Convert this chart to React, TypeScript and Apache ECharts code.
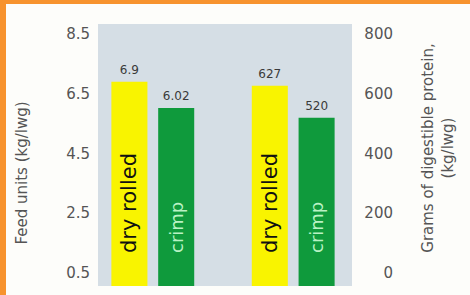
import React, { useEffect, useRef } from "react";
import * as echarts from "echarts";

// ---- data ----
const categories = ["dry rolled", "crimp", "", "dry rolled", "crimp"];
const feedUnitsIdx = [0, 1];
const feedUnits = [6.9, 6.02];
const proteinIdx = [3, 4];
const protein = [627, 520];
const leftTicks = [0.5, 2.5, 4.5, 6.5, 8.5];
const rightTicks = [0, 200, 400, 600, 800];
const leftTitle = "Feed units (kg/lwg)";
const rightTitle = "Grams of digestible protein,\n(kg/lwg)";

const YELLOW = "#f9f400";
const GREEN = "#0f9a3c";
const FONT = "DejaVu Sans";

const LEFT_MIN = 0.065;
const LEFT_MAX = 8.835;
const RIGHT_MIN = -43.5;
const RIGHT_MAX = 833.5;

function renderBar(params: any, api: any) {
  const cat = api.value(0);
  const val = api.value(1);
  const top = api.coord([cat, val]);
  const bandW = api.size([1, 0])[0];
  const w = bandW * 0.77;
  const cs = params.coordSys;
  const bottom = cs.y + cs.height;
  const name = categories[cat];
  const isDry = name === "dry rolled";
  return {
    type: "group",
    children: [
      {
        type: "rect",
        shape: { x: top[0] - w / 2, y: top[1], width: w, height: bottom - top[1] },
        style: { fill: isDry ? YELLOW : GREEN },
      },
      {
        type: "text",
        x: top[0],
        y: top[1] - 6,
        style: {
          text: String(val),
          align: "center",
          verticalAlign: "bottom",
          fontSize: 12,
          fontFamily: FONT,
          fill: "#3a3a3a",
        },
      },
      {
        type: "text",
        x: top[0],
        y: bottom - 33,
        rotation: Math.PI / 2,
        style: {
          text: name,
          align: "left",
          verticalAlign: "middle",
          fontSize: isDry ? 21 : 18,
          fontFamily: FONT,
          fill: isDry ? "#111111" : "#b9f2c4",
        },
      },
    ],
  };
}

export default function App() {
  const ref = useRef<HTMLDivElement>(null);
  useEffect(() => {
    if (!ref.current) return;
    const chart = echarts.init(ref.current, undefined, { renderer: "svg" });
    const option: any = {
      animation: false,
      backgroundColor: "#fdfdfa",
      grid: [
        { left: 98, right: 118, top: 24, bottom: 9, show: true, backgroundColor: "#d5dee5", borderWidth: 0 },
        { left: 106, right: 130, top: 24, bottom: 9 },
      ],
      xAxis: [
        { gridIndex: 0, type: "category", data: [""], show: false },
        { gridIndex: 1, type: "category", data: categories, show: false },
      ],
      yAxis: [
        {
          gridIndex: 0,
          type: "value",
          position: "left",
          min: LEFT_MIN,
          max: LEFT_MAX,
          axisLine: { show: false },
          axisTick: { show: false },
          splitLine: { show: false },
          axisLabel: {
            customValues: leftTicks,
            formatter: (v: number) => v.toFixed(1),
            fontSize: 15,
            fontFamily: FONT,
            color: "#555",
            margin: 8,
          },
        },
        {
          gridIndex: 0,
          type: "value",
          position: "right",
          min: RIGHT_MIN,
          max: RIGHT_MAX,
          axisLine: { show: false },
          axisTick: { show: false },
          splitLine: { show: false },
          axisLabel: {
            customValues: rightTicks,
            fontSize: 15,
            fontFamily: FONT,
            color: "#555",
            align: "right",
            margin: 41,
          },
        },
        { gridIndex: 1, type: "value", min: LEFT_MIN, max: LEFT_MAX, show: false },
        { gridIndex: 1, type: "value", min: RIGHT_MIN, max: RIGHT_MAX, show: false },
      ],
      series: [
        {
          type: "custom",
          xAxisIndex: 1,
          yAxisIndex: 2,
          data: feedUnitsIdx.map((c, i) => [c, feedUnits[i]]),
          renderItem: renderBar,
          clip: false,
        },
        {
          type: "custom",
          xAxisIndex: 1,
          yAxisIndex: 3,
          data: proteinIdx.map((c, i) => [c, protein[i]]),
          renderItem: renderBar,
          clip: false,
        },
      ],
      graphic: [
        { type: "rect", left: 0, top: 0, shape: { width: 6, height: 295 }, style: { fill: "#f7932e" } },
        { type: "rect", left: 0, top: 0, shape: { width: 470, height: 4 }, style: { fill: "#f7932e" } },
        {
          type: "text",
          x: 22,
          y: 173,
          rotation: Math.PI / 2,
          style: {
            text: leftTitle,
            align: "center",
            verticalAlign: "middle",
            fontSize: 15,
            fontFamily: FONT,
            fill: "#555",
          },
        },
        {
          type: "text",
          x: 438,
          y: 148,
          rotation: Math.PI / 2,
          style: {
            text: rightTitle,
            align: "center",
            verticalAlign: "middle",
            fontSize: 15,
            lineHeight: 20,
            fontFamily: FONT,
            fill: "#555",
          },
        },
      ],
    };
    chart.setOption(option);
    return () => chart.dispose();
  }, []);
  return (
    <div
      ref={ref}
      style={{ position: "fixed", left: 0, top: 0, width: 470, height: 295 }}
    />
  );
}
